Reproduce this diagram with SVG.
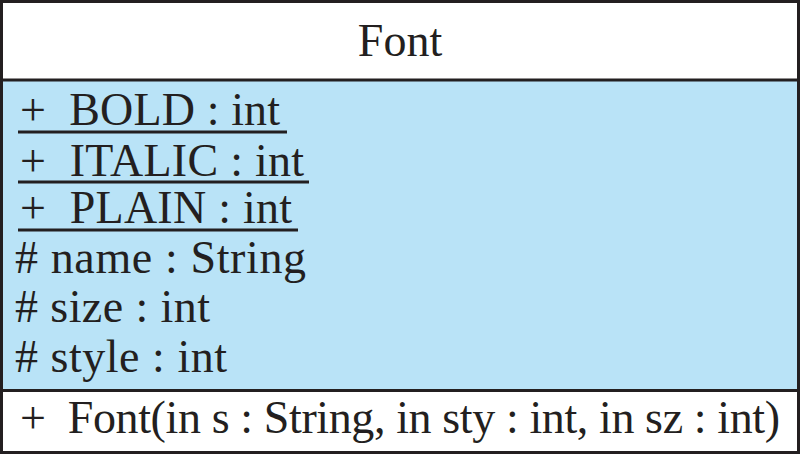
<svg xmlns="http://www.w3.org/2000/svg" width="800" height="454" viewBox="0 0 800 454">
<style>
.t{font-family:"Liberation Serif","Times New Roman",serif;font-size:46px;fill:#231f20}
.u{stroke:#231f20;stroke-width:3}
</style>
<g id="class-Font">
<rect x="1.5" y="1.5" width="797" height="451" fill="#ffffff" stroke="#231f20" stroke-width="3"/>
<rect x="3" y="81" width="794" height="309" fill="#b9e3f7"/>
<line x1="0" y1="80" x2="800" y2="80" stroke="#231f20" stroke-width="3"/>
<line x1="0" y1="390.5" x2="800" y2="390.5" stroke="#231f20" stroke-width="3"/>
<text class="t" x="400" y="56" text-anchor="middle">Font</text>
<text class="t" x="20" y="125" textLength="260" lengthAdjust="spacing" xml:space="preserve">+  BOLD : int</text>
<line class="u" x1="18" y1="132" x2="287" y2="132"/>
<text class="t" x="20" y="176" textLength="284" lengthAdjust="spacing" xml:space="preserve">+  ITALIC : int</text>
<line class="u" x1="18" y1="182" x2="309" y2="182"/>
<text class="t" x="20" y="223" textLength="272" lengthAdjust="spacing" xml:space="preserve">+  PLAIN : int</text>
<line class="u" x1="18" y1="230" x2="298" y2="230"/>
<text class="t" x="15" y="273" textLength="291" lengthAdjust="spacing"># name : String</text>
<text class="t" x="15" y="322" textLength="195" lengthAdjust="spacing"># size : int</text>
<text class="t" x="15" y="372" textLength="212" lengthAdjust="spacing"># style : int</text>
<text class="t" x="20" y="433" textLength="760" lengthAdjust="spacing" xml:space="preserve">+  Font(in s : String, in sty : int, in sz : int)</text>
</g>
</svg>
